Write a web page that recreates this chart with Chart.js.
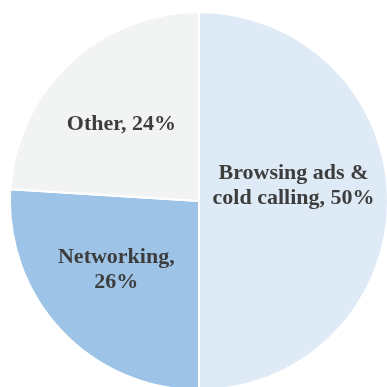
<!DOCTYPE html>
<html>
<head>
<meta charset="utf-8">
<script src="https://cdn.jsdelivr.net/npm/chart.js@4.4.1/dist/chart.umd.min.js"></script>
<style>
    html, body { margin: 0; padding: 0; background: #ffffff; overflow: hidden; }
    #wrap { position: absolute; left: 9px; top: 11px; width: 380px; height: 380px; }
</style>
</head>
<body>
<div id="wrap"><canvas id="pie-chart"></canvas></div>
<script>
// Chart data
const categories = ['Browsing ads & cold calling', 'Networking', 'Other'];
const shares = [50, 26, 24];
const sliceColors = ['#deebf7', '#9dc3e6', '#f2f3f3'];

// label lines for each slice
const labelLines = [
    ['Browsing ads &', 'cold calling, 50%'],
    ['Networking,', '26%'],
    ['Other, 24%']
];
// radial position (fraction of radius) and vertical nudge for each label
const labelRadius = [0.5, 0.6, 0.6];
const labelNudge = [-15, -9, 6];

// Draw labels inside slices
const sliceLabels = {
    id: 'sliceLabels',
    afterDatasetsDraw(chart) {
        const ctx = chart.ctx;
        const meta = chart.getDatasetMeta(0);
        ctx.save();
        ctx.font = 'bold 22px "Liberation Serif", "Times New Roman", serif';
        ctx.fillStyle = '#3d3d3d';
        ctx.textAlign = 'center';
        ctx.textBaseline = 'middle';
        meta.data.forEach((arc, i) => {
            const p = arc.getProps(['x', 'y', 'startAngle', 'endAngle', 'outerRadius'], true);
            const mid = (p.startAngle + p.endAngle) / 2;
            const r = p.outerRadius * labelRadius[i];
            const cx = p.x + Math.cos(mid) * r;
            const cy = p.y + Math.sin(mid) * r + labelNudge[i];
            const lines = labelLines[i];
            const lh = 25;
            lines.forEach((line, j) => {
                ctx.fillText(line, cx, cy + (j - (lines.length - 1) / 2) * lh);
            });
        });
        ctx.restore();
    }
};

new Chart(document.getElementById('pie-chart'), {
    type: 'pie',
    data: {
        labels: categories,
        datasets: [{
            data: shares,
            backgroundColor: sliceColors,
            borderColor: '#ffffff',
            borderWidth: 2
        }]
    },
    options: {
        responsive: true,
        maintainAspectRatio: false,
        animation: false,
        layout: { padding: 0 },
        plugins: {
            legend: { display: false },
            tooltip: { enabled: false }
        }
    },
    plugins: [sliceLabels]
});
</script>
</body>
</html>
